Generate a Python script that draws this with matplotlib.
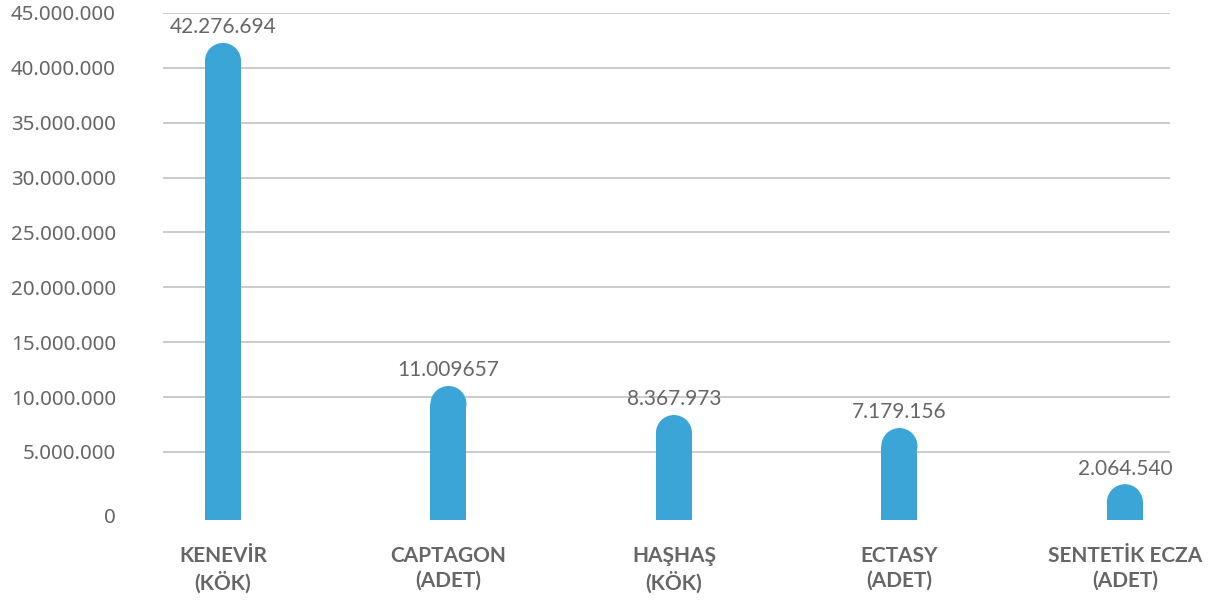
import matplotlib
matplotlib.use("Agg")
import matplotlib.pyplot as plt
import matplotlib.transforms as mtransforms
from matplotlib.patches import Ellipse
from matplotlib.ticker import FuncFormatter

categories = ["KENEVİR\n(KÖK)", "CAPTAGON\n(ADET)", "HAŞHAŞ\n(KÖK)", "ECTASY\n(ADET)", "SENTETİK ECZA\n(ADET)"]
values = [42276694, 11009657, 8367973, 7179156, 2064540]
value_labels = ["42.276.694", "11.009657", "8.367.973", "7.179.156", "2.064.540"]
yticks = list(range(0, 45000001, 5000000))

BAR = "#3ba5d8"
TXT = "#666666"
plt.rcParams['font.family'] = ['Noto Sans', 'DejaVu Sans']
LATO = ['Lato', 'DejaVu Sans']

W, H = 1217, 600
fig = plt.figure(figsize=(W / 100, H / 100), dpi=100)
left, right, top, bottom = 163, 1170, 13, 520
ax = fig.add_axes([left / W, 1 - bottom / H, (right - left) / W, (bottom - top) / H])

xmin, xmax = -0.266, 4.2
ymin, ymax = -1200000, 45000000
ax.set_xlim(xmin, xmax)
ax.set_ylim(ymin, ymax)

bw = 0.16
px_per_x = (right - left) / (xmax - xmin)
px_per_y = (bottom - top) / (ymax - ymin)
ry = (bw / 2) * px_per_x / px_per_y

for i, v in enumerate(values):
    ax.bar(i, v - ry - ymin, width=bw, bottom=ymin, color=BAR, linewidth=0, zorder=3)
    ax.add_patch(Ellipse((i, v - ry), bw, 2 * ry, facecolor=BAR, edgecolor='none', zorder=3))
    ax.annotate(value_labels[i], (i, v), xytext=(0, 4), textcoords='offset points',
                ha='center', va='bottom', fontsize=15, color=TXT, family=LATO)

ax.set_yticks(yticks)
ax.yaxis.set_major_formatter(FuncFormatter(lambda y, p: f"{int(y):,}".replace(",", ".")))
ax.set_xticks(range(len(categories)))
ax.set_xticklabels(categories, fontsize=15, fontweight='bold', color=TXT, linespacing=1.25,
                   family=LATO)
ax.tick_params(axis='x', length=0, pad=19)
ax.tick_params(axis='y', length=0, pad=34, labelcolor=TXT, labelsize=14.8)
for s in ax.spines.values():
    s.set_visible(False)

for t in yticks[1:]:
    ax.axhline(t, color="#bdbdbd", linewidth=1.1, zorder=1)

fig.canvas.draw()
zero_lbl = ax.get_yticklabels()[0]
zero_lbl.set_transform(zero_lbl.get_transform() +
                       mtransforms.ScaledTranslation(0, -9 / 100, fig.dpi_scale_trans))

fig.savefig("out.png", dpi=100)
